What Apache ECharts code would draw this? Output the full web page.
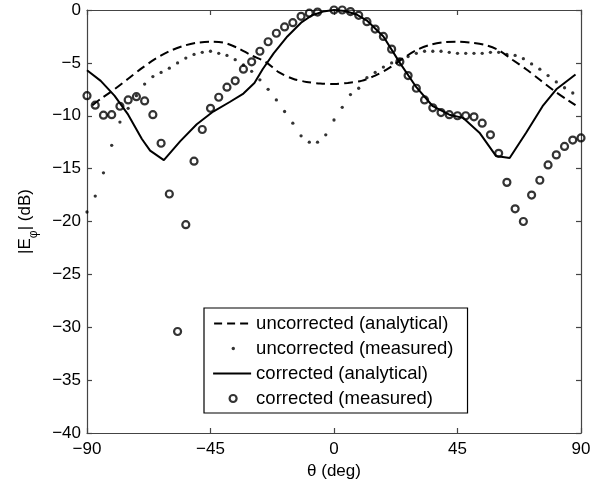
<!DOCTYPE html>
<html>
<head>
<meta charset="utf-8">
<script src="https://cdn.jsdelivr.net/npm/echarts@6/dist/echarts.min.js"></script>
<style>html,body{margin:0;padding:0;background:#fff}#c{width:611px;height:485px}</style>
</head>
<body>
<div id="c"></div>
<script>
// ---- data ----
const seriesNames = ['uncorrected (analytical)', 'uncorrected (measured)', 'corrected (analytical)', 'corrected (measured)'];
const xTicks = [-90, -45, 0, 45, 90];
const yTicks = [-40, -35, -30, -25, -20, -15, -10, -5, 0];

// uncorrected (analytical): dashed
const uncAnaTheta = [-88, -85, -80, -75, -70, -65, -60, -55, -50, -45, -40, -35, -30, -25, -20, -15, -10, -5, 0, 5, 10, 15, 20, 25, 30, 35, 40, 45, 50, 55, 60, 65, 70, 75, 80, 85, 88];
const uncAnaDb = [-9.0, -8.4, -7.5, -6.5, -5.5, -4.6, -3.9, -3.4, -3.1, -3.0, -3.1, -3.6, -4.3, -4.9, -5.9, -6.5, -6.8, -6.95, -7.0, -6.9, -6.7, -6.2, -5.5, -4.6, -3.8, -3.3, -3.05, -3.0, -3.1, -3.3, -3.8, -4.7, -5.6, -6.6, -7.6, -8.5, -9.0];

// uncorrected (measured): dots
const uncMeasTheta = [-90, -87, -84, -81, -78, -75, -72, -69, -66, -63, -60, -57, -54, -51, -48, -45, -42, -39, -36, -33, -30, -27, -24, -21, -18, -15, -12, -9, -6, -3, 0, 3, 6, 9, 12, 15, 18, 21, 24, 27, 30, 33, 36, 39, 42, 45, 48, 51, 54, 57, 60, 63, 66, 69, 72, 75, 78, 81, 84, 87];
const uncMeasDb = [-19.1, -17.6, -15.4, -12.8, -10.6, -9.3, -8.1, -7.0, -6.3, -5.9, -5.5, -5.0, -4.55, -4.2, -4.0, -3.9, -4.1, -4.3, -4.7, -5.2, -5.8, -6.6, -7.5, -8.5, -9.6, -10.7, -11.9, -12.5, -12.5, -11.8, -10.4, -9.2, -8.0, -7.4, -6.4, -5.9, -5.4, -5.0, -4.7, -4.4, -4.1, -3.9, -3.9, -3.9, -4.0, -4.1, -4.1, -4.1, -4.1, -4.0, -4.0, -4.2, -4.3, -4.6, -5.1, -5.6, -6.2, -6.8, -7.35, -7.85];

// corrected (analytical): solid
const corAnaTheta = [-90, -85, -80, -75, -70, -67, -62, -56, -50, -44, -38, -33, -29, -26, -22, -17, -12, -8, -4, 0, 4, 8, 12, 18, 24, 30, 36, 42, 47, 53, 59, 64, 70, 76, 81, 88];
const corAnaDb = [-5.7, -6.7, -8.1, -9.9, -12.2, -13.3, -14.2, -12.4, -10.8, -9.6, -8.7, -7.9, -6.9, -5.6, -4.1, -2.5, -1.2, -0.5, -0.15, 0, -0.1, -0.4, -1.0, -2.5, -5.0, -7.3, -9.1, -9.9, -10.2, -11.6, -13.8, -14.0, -11.6, -9.1, -7.5, -6.1];

// corrected (measured): circles
const corMeasTheta = [-90, -87, -84, -81, -78, -75, -72, -69, -66, -63, -60, -57, -54, -51, -48, -45, -42, -39, -36, -33, -30, -27, -24, -21, -18, -15, -12, -9, -6, 0, 3, 6, 9, 12, 15, 18, 21, 24, 27, 30, 33, 36, 39, 42, 45, 48, 51, 54, 57, 60, 63, 66, 69, 72, 75, 78, 81, 84, 87, 90];
const corMeasDb = [-8.1, -9.0, -9.95, -9.9, -9.1, -8.5, -8.2, -8.6, -9.9, -12.6, -17.4, -30.4, -20.3, -14.3, -11.3, -9.3, -8.25, -7.3, -6.7, -5.6, -4.9, -3.9, -3.0, -2.2, -1.6, -1.2, -0.6, -0.3, -0.2, 0, 0, -0.15, -0.5, -1.1, -1.8, -2.5, -3.7, -4.9, -6.2, -7.4, -8.5, -9.25, -9.7, -9.9, -10.0, -10.0, -10.1, -10.7, -11.8, -13.55, -16.3, -18.8, -20.0, -17.5, -16.1, -14.65, -13.7, -12.9, -12.3, -12.1];

const zip = (a, b) => a.map((v, i) => [v, b[i]]);
const minus = v => String(v).replace('-', '\u2212');

const FONT = "'Liberation Sans', Arial, Helvetica, sans-serif";
const AXC = '#444';

const chart = echarts.init(document.getElementById('c'), null, {renderer: 'canvas'});

const baseAxis = {
  axisLine: {show: true, onZero: false, lineStyle: {color: AXC, width: 1.2}},
  axisTick: {show: true, inside: true, length: 5, lineStyle: {color: AXC, width: 1.2}},
  splitLine: {show: false}
};

chart.setOption({
  animation: false,
  backgroundColor: '#fff',
  grid: {left: 87, right: 30, top: 10, bottom: 50, containLabel: false},
  xAxis: [
    Object.assign({}, baseAxis, {
      type: 'value', min: xTicks[0], max: xTicks[xTicks.length - 1], interval: 45, position: 'bottom',
      axisLabel: {color: '#000', fontSize: 17, fontFamily: FONT, margin: 8, formatter: minus},
      name: '\u03b8 (deg)', nameLocation: 'middle', nameGap: 30,
      nameTextStyle: {color: '#000', fontSize: 17, fontFamily: FONT}
    }),
    Object.assign({}, baseAxis, {
      type: 'value', min: xTicks[0], max: xTicks[xTicks.length - 1], interval: 45, position: 'top',
      axisLabel: {show: false}
    })
  ],
  yAxis: [
    Object.assign({}, baseAxis, {
      type: 'value', min: yTicks[0], max: yTicks[yTicks.length - 1], interval: 5, position: 'left',
      axisLabel: {color: '#000', fontSize: 17, fontFamily: FONT, margin: 6, formatter: minus},
      name: '|E{sub|\u03c6}| (dB)', nameLocation: 'middle', nameGap: 47, nameRotate: 90,
      nameTextStyle: {
        color: '#000', fontSize: 17, fontFamily: FONT, lineHeight: 30,
        rich: {sub: {fontSize: 12, fontFamily: FONT, color: '#000', lineHeight: 12, verticalAlign: 'bottom'}}
      }
    }),
    Object.assign({}, baseAxis, {
      type: 'value', min: yTicks[0], max: yTicks[yTicks.length - 1], interval: 5, position: 'right',
      axisLabel: {show: false}
    })
  ],
  legend: {
    orient: 'vertical', left: 204, top: 308,
    padding: [6, 14, 5, 8],
    itemWidth: 38, itemHeight: 14, itemGap: 6,
    borderColor: '#000', borderWidth: 1.2, backgroundColor: '#fff',
    textStyle: {color: '#000', fontSize: 18.5, fontFamily: FONT},
    selectedMode: false,
    data: [
      {name: seriesNames[0], icon: 'path://M0,0 M38,14 M1,7 L38,7',
       itemStyle: {color: 'rgba(0,0,0,0)', borderColor: '#000', borderWidth: 2, borderType: [8, 5]}},
      {name: seriesNames[1], icon: 'path://M0,0 M38,14 M18.5,7 A1.7,1.7 0 1 1 21.9,7 A1.7,1.7 0 1 1 18.5,7 Z',
       itemStyle: {color: '#000', borderWidth: 0}},
      {name: seriesNames[2], icon: 'path://M0,0 M38,14 M0,7 L38,7',
       itemStyle: {color: 'rgba(0,0,0,0)', borderColor: '#000', borderWidth: 2}},
      {name: seriesNames[3], icon: 'path://M0,0 M38,14 M16.5,7 A3.5,3.5 0 1 1 23.5,7 A3.5,3.5 0 1 1 16.5,7 Z',
       itemStyle: {color: 'rgba(0,0,0,0)', borderColor: '#000', borderWidth: 2.2}}
    ]
  },
  series: [
    {
      name: seriesNames[0], type: 'line', data: zip(uncAnaTheta, uncAnaDb),
      symbol: 'none', smooth: 0.3, color: '#000',
      lineStyle: {color: '#000', width: 2, type: [9, 5]}
    },
    {
      name: seriesNames[1], type: 'scatter', data: zip(uncMeasTheta, uncMeasDb),
      symbol: 'circle', symbolSize: 3.3, color: '#000',
      itemStyle: {color: '#000'}
    },
    {
      name: seriesNames[2], type: 'line', data: zip(corAnaTheta, corAnaDb),
      symbol: 'none', color: '#000',
      lineStyle: {color: '#000', width: 2}
    },
    {
      name: seriesNames[3], type: 'scatter', data: zip(corMeasTheta, corMeasDb),
      symbol: 'circle', symbolSize: 7, color: '#000',
      itemStyle: {color: 'rgba(0,0,0,0)', borderColor: '#000', borderWidth: 2.2}
    }
  ]
});
</script>
</body>
</html>
